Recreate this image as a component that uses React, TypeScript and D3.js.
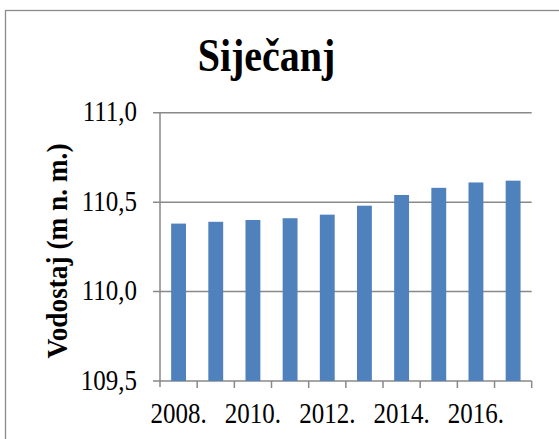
import React from "react";
import * as d3 from "d3";

const years = ["2008.", "2009.", "2010.", "2011.", "2012.", "2013.", "2014.", "2015.", "2016.", "2017."];
const values = [110.38, 110.39, 110.4, 110.41, 110.43, 110.48, 110.54, 110.58, 110.61, 110.62];
const yTicks = [109.5, 110.0, 110.5, 111.0];
const titleText = "Siječanj";
const yAxisTitle = "Vodostaj (m n. m.)";

const W = 559;
const H = 439;
const left = 160;
const right = 531.7;
const top = 112.7;
const bottom = 381;
const FONT = "Liberation Serif";
const SY = 1.17;

export default function App() {
  const x = d3.scaleBand<string>().domain(years).range([left, right]).paddingInner(0.6).paddingOuter(0.3);
  const xb = d3.scaleBand<string>().domain(years).range([left, right]).padding(0);
  const y = d3.scaleLinear().domain([109.5, 111]).range([bottom, top]);
  const fmt = (v: number) => v.toFixed(1).replace(".", ",");
  const grid = "#898989";

  return (
    <svg width={W} height={H} style={{ position: "absolute", left: 0, top: 0 }}>
      <rect x={0} y={0} width={W} height={H} fill="#fff" />
      <rect x={5.5} y={10.5} width={W + 10} height={H + 10} fill="none" stroke="#8c8c8c" strokeWidth={1.3} />
      <text
        transform={`translate(266.5,70.5) scale(1,${SY})`}
        textAnchor="middle"
        fontFamily={FONT}
        fontWeight="bold"
        fontSize={40}
        fill="#000"
      >
        {titleText}
      </text>
      {yTicks.map((t) => (
        <g key={t}>
          <line x1={153} x2={right} y1={y(t)} y2={y(t)} stroke={grid} strokeWidth={1.5} />
          <text
            transform={`translate(137,${y(t) + 8.5}) scale(1,${SY})`}
            textAnchor="end"
            fontFamily={FONT}
            fontSize={25}
            fill="#000"
          >
            {fmt(t)}
          </text>
        </g>
      ))}
      {values.map((v, i) => (
        <rect
          key={years[i]}
          x={x(years[i])!}
          y={y(v)}
          width={x.bandwidth()}
          height={bottom - y(v)}
          fill="#4f81bd"
        />
      ))}
      <line x1={left} x2={left} y1={top} y2={bottom + 6} stroke={grid} strokeWidth={1.5} />
      {years.map((yr) => (
        <line key={yr} x1={xb(yr)! + xb.bandwidth()} x2={xb(yr)! + xb.bandwidth()} y1={bottom} y2={bottom + 7} stroke={grid} strokeWidth={1.5} />
      ))}
      {years.map((yr, i) =>
        i % 2 === 0 ? (
          <text
            key={yr}
            transform={`translate(${xb(yr)! + xb.bandwidth() / 2},${423}) scale(1,${SY})`}
            textAnchor="middle"
            fontFamily={FONT}
            fontSize={25}
            fill="#000"
          >
            {yr}
          </text>
        ) : null
      )}
      <text
        transform={`translate(67,251) rotate(-90) scale(1.05,1.1)`}
        textAnchor="middle"
        fontFamily={FONT}
        fontWeight="bold"
        fontSize={26}
        fill="#000"
      >
        {yAxisTitle}
      </text>
    </svg>
  );
}
